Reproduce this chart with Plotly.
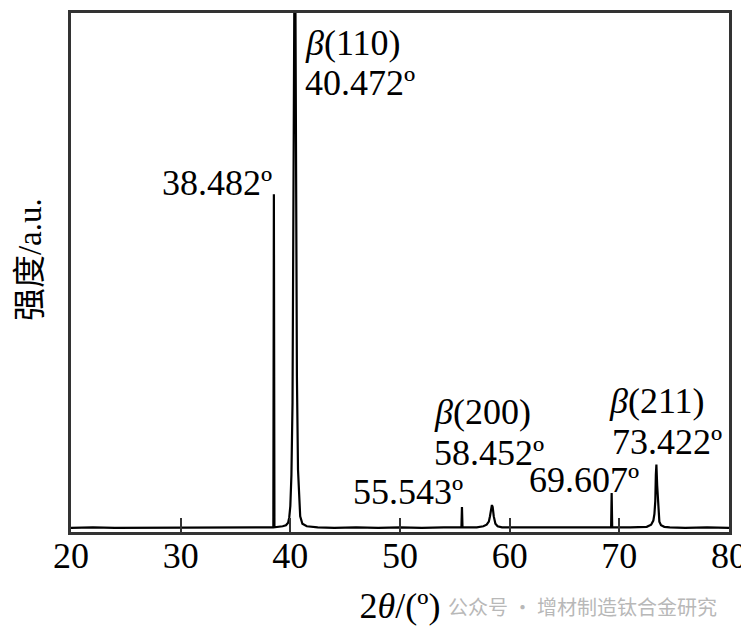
import plotly.graph_objects as go

# XRD pattern (2theta in degrees, intensity in a.u.)
two_theta = [20.0, 22.0, 24.0, 26.0, 28.0, 30.0, 32.0, 34.0, 36.0, 37.5, 38.45, 38.5, 38.55,
             39.3, 39.6, 39.8, 39.9, 40.0, 40.1, 40.2, 40.3, 40.38, 40.45, 40.5, 40.55, 40.6,
             40.7, 40.8, 40.9, 41.1, 41.5, 42.5, 44.0, 46.0, 48.0, 50.0, 52.0, 54.0, 55.6,
             55.65, 55.7, 57.0, 57.6, 57.9, 58.1, 58.2, 58.3, 58.38, 58.45, 58.55, 58.7, 58.9,
             59.3, 61.0, 63.0, 65.0, 67.0, 69.25, 69.3, 69.35, 71.0, 72.5, 72.9, 73.1, 73.2,
             73.28, 73.33, 73.38, 73.45, 73.5, 73.55, 73.65, 73.8, 74.1, 74.6, 76.0, 78.0, 80.0]
intensity = [8, 9, 8, 8, 9, 8, 9, 8, 9, 9, 9, 651, 9,
             11, 13, 18, 28, 50, 110, 250, 600, 1100, 1100, 800, 560, 300,
             120, 60, 30, 16, 11, 9, 8, 9, 8, 9, 8, 9, 9,
             48, 9, 9, 11, 14, 20, 30, 45, 52, 48, 30, 16, 11,
             9, 9, 8, 9, 8, 9, 75, 9, 9, 10, 14, 22, 35,
             60, 110, 130, 90, 71, 40, 20, 13, 10, 9, 8, 9, 8]

tick_vals = [20, 30, 40, 50, 60, 70, 80]
tick_text = ["20", "30", "40", "50", "60", "70", "80"]

# peak labels
label_text = ["<i>β</i>(110)", "40.472º", "38.482º", "55.543º", "<i>β</i>(200)", "58.452º",
              "69.607º", "<i>β</i>(211)", "73.422º"]
label_x = [41.15, 41.15, 38.55, 45.5, 52.95, 52.95, 61.6, 68.85, 69.15]
label_y = [943, 866, 672, 77, 232, 153, 100, 252, 174]
label_anchor = ["left", "left", "right", "left", "left", "left", "left", "left", "left"]

serif = "serif"

fig = go.Figure()
fig.add_trace(go.Scatter(x=two_theta, y=intensity, mode="lines",
                         line=dict(color="black", width=2.2), showlegend=False,
                         hoverinfo="skip"))

for t, x, y, a in zip(label_text, label_x, label_y, label_anchor):
    fig.add_annotation(x=x, y=y, xref="x", yref="y", text=t, showarrow=False,
                       xanchor=a, yanchor="middle",
                       font=dict(family=serif, size=36, color="black"))

# y-axis title
fig.add_annotation(x=-0.063, y=0.525, xref="paper", yref="paper", text="强度/a.u.",
                   showarrow=False, textangle=-90, xanchor="center", yanchor="middle",
                   font=dict(family="serif, Noto Sans CJK SC", size=33, color="black"))

fig.add_annotation(x=0.778, y=-0.144, xref="paper", yref="paper",
                   text="公众号 · 增材制造钛合金研究", showarrow=False,
                   xanchor="center", yanchor="middle",
                   font=dict(family="Noto Sans CJK SC", size=20, color="#b8b8b8"))

# page body has an 8px margin: size the figure so the plot area lands where the reference has it
fig.update_layout(
    width=741, height=635,
    margin=dict(l=63, r=11, t=2, b=111),
    paper_bgcolor="white", plot_bgcolor="white",
    font=dict(family=serif, size=36, color="black"),
    xaxis=dict(range=[20, 80], tickvals=tick_vals, ticktext=tick_text,
               ticks="inside", ticklen=14, tickwidth=2, tickcolor="#333",
               showline=True, linecolor="#333", linewidth=2.5, mirror=True,
               showgrid=False, zeroline=False, ticklabelstandoff=-10,
               ticklabeloverflow="allow",
               tickfont=dict(family=serif, size=36),
               title=dict(text="2<i>θ</i>/(º)", font=dict(family=serif, size=36), standoff=18)),
    yaxis=dict(range=[0, 1000], showticklabels=False, ticks="",
               showline=True, linecolor="#333", linewidth=2.5, mirror=True,
               showgrid=False, zeroline=False),
)

fig.write_html("out.html")
